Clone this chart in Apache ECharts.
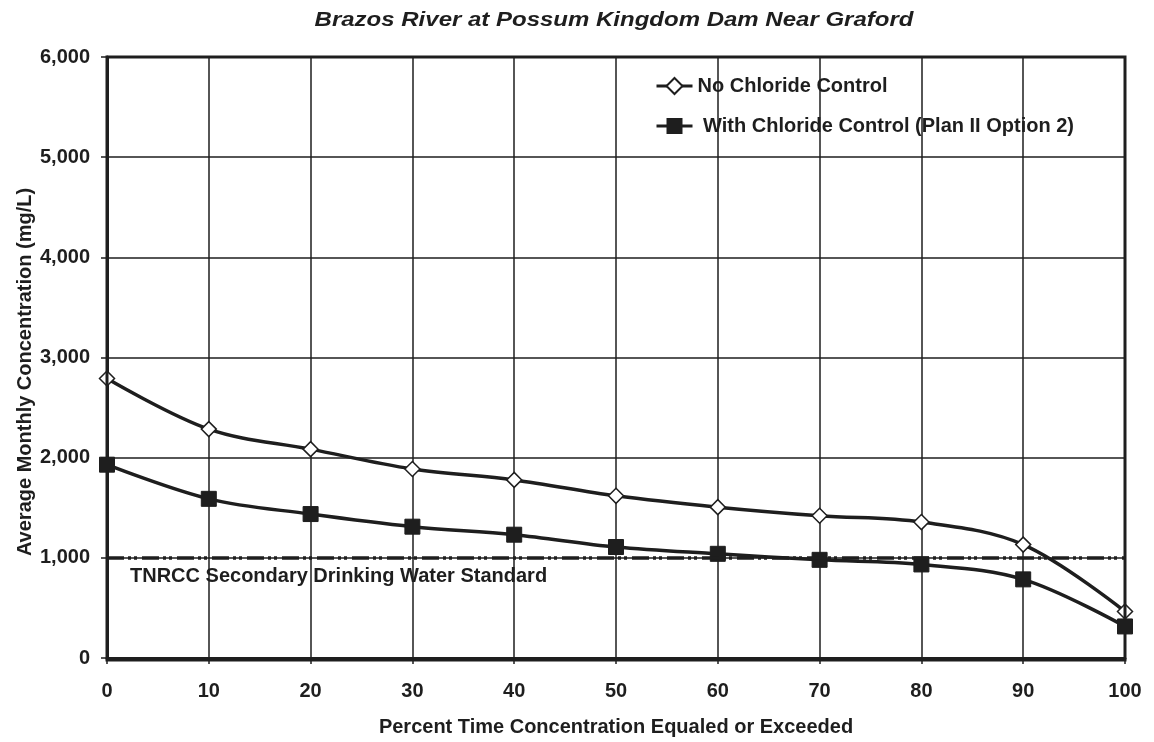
<!DOCTYPE html>
<html>
<head>
<meta charset="utf-8">
<title>Brazos River at Possum Kingdom Dam Near Graford</title>
<script src="https://cdn.jsdelivr.net/npm/echarts@6/dist/echarts.min.js"></script>
<style>
  html, body { margin: 0; padding: 0; background: #fff; }
  #chart { width: 1154px; height: 742px; }
</style>
</head>
<body>
<div id="chart"></div>
<script>
    // data
    var percentTime = [0, 10, 20, 30, 40, 50, 60, 70, 80, 90, 100];
    var noControl = [2790, 2285, 2085, 1887, 1778, 1619, 1506, 1420, 1357, 1132, 464];
    var withControl = [1930, 1589, 1437, 1311, 1231, 1108, 1040, 980, 934, 785, 315];
    var standardValue = 1000;
    var standardLabel = 'TNRCC Secondary Drinking Water Standard';

    var font = '"Liberation Sans", Arial, sans-serif';
    var ink = '#1e1e1e';

    function pairs(ys) {
        return percentTime.map(function (x, i) { return [x, ys[i]]; });
    }

    var chart = echarts.init(document.getElementById('chart'), null, { renderer: 'canvas' });
    chart.setOption({
        animation: false,
        legend: {
            left: 655,
            top: 76,
            padding: 0,
            orient: 'vertical',
            itemGap: 20,
            itemWidth: 36,
            itemHeight: 20,
            lineStyle: { width: 3 },
            textStyle: { fontFamily: font, fontSize: 20, fontWeight: 'bold', color: ink },
            data: ['No Chloride Control', ' With Chloride Control (Plan II Option 2)']
        },
        grid: { left: 107, right: 29, top: 57, bottom: 82 },
        xAxis: {
            type: 'value',
            min: 0,
            max: 100,
            interval: 10,
            name: 'Percent Time Concentration Equaled or Exceeded',
            nameLocation: 'middle',
            nameGap: 59,
            nameTextStyle: { fontFamily: font, fontSize: 20, fontWeight: 'bold', color: ink },
            axisLine: { lineStyle: { color: ink, width: 3 } },
            axisTick: { show: true, length: 6, lineStyle: { color: ink, width: 1.5 } },
            axisLabel: { margin: 23, fontFamily: font, fontSize: 20, fontWeight: 'bold', color: ink },
            splitLine: { show: true, lineStyle: { color: ink, width: 1.5 } }
        },
        yAxis: {
            type: 'value',
            min: 0,
            max: 6000,
            interval: 1000,
            axisLine: { show: true, lineStyle: { color: ink, width: 3 } },
            axisTick: { show: true, length: 6, lineStyle: { color: ink, width: 1.5 } },
            axisLabel: {
                margin: 17,
                fontFamily: font, fontSize: 20, fontWeight: 'bold', color: ink,
                formatter: function (v) { return v.toLocaleString('en-US'); }
            },
            splitLine: { show: true, lineStyle: { color: ink, width: 1.5 } }
        },
        graphic: [
            // title, a little stretched like the original
            {
                type: 'text',
                x: 614,
                y: 20,
                scaleX: 1.2,
                style: {
                    text: 'Brazos River at Possum Kingdom Dam Near Graford',
                    font: 'italic bold 20px ' + font,
                    fill: ink,
                    align: 'center',
                    verticalAlign: 'middle'
                }
            },
            // y axis name
            {
                type: 'text',
                x: 25,
                y: 372,
                rotation: Math.PI / 2,
                style: {
                    text: 'Average Monthly Concentration (mg/L)',
                    font: 'bold 20px ' + font,
                    fill: ink,
                    align: 'center',
                    verticalAlign: 'middle'
                }
            },
            // heavy frame round the plot area
            {
                type: 'rect',
                shape: { x: 107, y: 57, width: 1018, height: 603 },
                style: { fill: null, stroke: ink, lineWidth: 3 },
                z: 5,
                silent: true
            }
        ],
        series: [
            {
                name: 'No Chloride Control',
                type: 'line',
                smooth: 0.35,
                data: pairs(noControl),
                symbol: 'diamond',
                symbolSize: 15,
                lineStyle: { color: ink, width: 3.5 },
                itemStyle: { color: '#fff', borderColor: ink, borderWidth: 1.5 },
                z: 4,
                markLine: {
                    silent: true,
                    symbol: 'none',
                    lineStyle: { color: ink, width: 3.5, type: [17, 4, 3, 3, 3, 5] },
                    label: {
                        show: true,
                        position: 'insideStartBottom',
                        formatter: standardLabel,
                        distance: [23, 9],
                        fontFamily: font, fontSize: 20, fontWeight: 'bold', color: ink
                    },
                    data: [{ yAxis: standardValue }]
                }
            },
            {
                name: ' With Chloride Control (Plan II Option 2)',
                type: 'line',
                smooth: 0.35,
                data: pairs(withControl),
                symbol: 'rect',
                symbolSize: 15,
                lineStyle: { color: ink, width: 3.5 },
                itemStyle: { color: ink, borderColor: ink },
                z: 4
            }
        ]
    });
</script>
</body>
</html>
